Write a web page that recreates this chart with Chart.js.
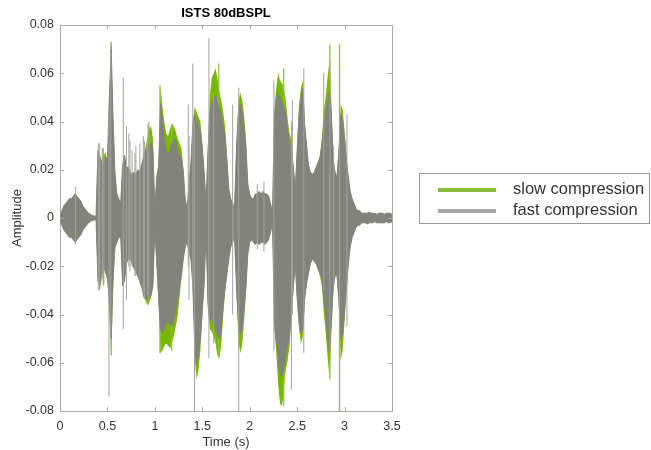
<!DOCTYPE html>
<html lang="en">
<head>
<meta charset="UTF-8">
<title>ISTS 80dBSPL</title>
<script src="https://cdn.jsdelivr.net/npm/chart.js@4.4.0/dist/chart.umd.min.js"></script>
<style>
  body { margin: 0; background: #fff; }
  canvas { display: block; }
</style>
</head>
<body>
<canvas id="chart" width="651" height="450"></canvas>
<script>
// envelope of the two signals, sampled every 20 ms (seconds)
const times = [
  0, 0.02, 0.04, 0.06, 0.08, 0.1, 0.12, 0.14, 0.16, 0.18,
  0.2, 0.22, 0.24, 0.26, 0.28, 0.3, 0.32, 0.34, 0.36, 0.38,
  0.4, 0.42, 0.44, 0.46, 0.48, 0.5, 0.52, 0.54, 0.56, 0.58,
  0.6, 0.62, 0.64, 0.66, 0.68, 0.7, 0.72, 0.74, 0.76, 0.78,
  0.8, 0.82, 0.84, 0.86, 0.88, 0.9, 0.92, 0.94, 0.96, 0.98,
  1, 1.02, 1.04, 1.06, 1.08, 1.1, 1.12, 1.14, 1.16, 1.18,
  1.2, 1.22, 1.24, 1.26, 1.28, 1.3, 1.32, 1.34, 1.36, 1.38,
  1.4, 1.42, 1.44, 1.46, 1.48, 1.5, 1.52, 1.54, 1.56, 1.58,
  1.6, 1.62, 1.64, 1.66, 1.68, 1.7, 1.72, 1.74, 1.76, 1.78,
  1.8, 1.82, 1.84, 1.86, 1.88, 1.9, 1.92, 1.94, 1.96, 1.98,
  2, 2.02, 2.04, 2.06, 2.08, 2.1, 2.12, 2.14, 2.16, 2.18,
  2.2, 2.22, 2.24, 2.26, 2.28, 2.3, 2.32, 2.34, 2.36, 2.38,
  2.4, 2.42, 2.44, 2.46, 2.48, 2.5, 2.52, 2.54, 2.56, 2.58,
  2.6, 2.62, 2.64, 2.66, 2.68, 2.7, 2.72, 2.74, 2.76, 2.78,
  2.8, 2.82, 2.84, 2.86, 2.88, 2.9, 2.92, 2.94, 2.96, 2.98,
  3, 3.02, 3.04, 3.06, 3.08, 3.1, 3.12, 3.14, 3.16, 3.18,
  3.2, 3.22, 3.24, 3.26, 3.28, 3.3, 3.32, 3.34, 3.36, 3.38,
  3.4, 3.42, 3.44, 3.46, 3.48, 3.5
];

const fastMax = [
  0, 0.003, 0.005, 0.006, 0.007, 0.008, 0.008, 0.009, 0.010, 0.009,
  0.008, 0.007, 0.005, 0.004, 0.003, 0.002, 0.0015, 0.001, 0.0008, 0.0008,
  0.028, 0.025, 0.022, 0.023, 0.025, 0.024, 0.050, 0.070, 0.040, 0.018,
  0.010, 0.008, 0.006, 0.022, 0.026, 0.021, 0.021, 0.019, 0.018, 0.019,
  0.018, 0.020, 0.019, 0.022, 0.025, 0.027, 0.029, 0.031, 0.031, 0.028,
  0.004, 0.017, 0.021, 0.047, 0.040, 0.033, 0.028, 0.026, 0.028, 0.031,
  0.033, 0.032, 0.028, 0.026, 0.025, 0.019, 0.008, 0.004, 0.014, 0.023,
  0.038, 0.043, 0.040, 0.038, 0.036, 0.029, 0.019, 0.006, 0.028, 0.043,
  0.048, 0.050, 0.051, 0.048, 0.045, 0.043, 0.038, 0.034, 0.024, 0.012,
  0.008, 0.006, 0.005, 0.028, 0.043, 0.047, 0.043, 0.038, 0.030, 0.014,
  0.010, 0.008, 0.008, 0.010, 0.010, 0.011, 0.010, 0.011, 0.010, 0.010,
  0.009, 0.006, 0.002, 0.043, 0.048, 0.052, 0.050, 0.048, 0.046, 0.043,
  0.036, 0.031, 0.028, 0.021, 0.012, 0.028, 0.043, 0.050, 0.054, 0.038,
  0.030, 0.022, 0.019, 0.018, 0.019, 0.021, 0.023, 0.025, 0.030, 0.038,
  0.043, 0.048, 0.053, 0.043, 0.024, 0.019, 0.017, 0.028, 0.043, 0.040,
  0.033, 0.024, 0.017, 0.011, 0.008, 0.006, 0.004, 0.003, 0.003, 0.002,
  0.002, 0.002, 0.002, 0.0025, 0.002, 0.002, 0.002, 0.0015, 0.002, 0.002,
  0.002, 0.0015, 0.002, 0.002, 0.002, 0.0015
];
const fastMin = [
  0, -0.003, -0.005, -0.006, -0.007, -0.008, -0.008, -0.009, -0.010, -0.009,
  -0.008, -0.007, -0.005, -0.004, -0.003, -0.002, -0.0015, -0.001, -0.0008, -0.0008,
  -0.026, -0.028, -0.023, -0.020, -0.022, -0.025, -0.033, -0.050, -0.024, -0.012,
  -0.010, -0.008, -0.008, -0.028, -0.026, -0.019, -0.017, -0.017, -0.019, -0.021,
  -0.022, -0.024, -0.026, -0.028, -0.031, -0.032, -0.034, -0.033, -0.032, -0.028,
  -0.004, -0.019, -0.033, -0.046, -0.048, -0.046, -0.044, -0.043, -0.044, -0.045,
  -0.042, -0.038, -0.034, -0.028, -0.024, -0.017, -0.012, -0.010, -0.014, -0.017,
  -0.028, -0.053, -0.061, -0.056, -0.050, -0.038, -0.027, -0.006, -0.036, -0.042,
  -0.042, -0.044, -0.046, -0.049, -0.050, -0.046, -0.036, -0.029, -0.023, -0.017,
  -0.012, -0.010, -0.008, -0.028, -0.043, -0.048, -0.046, -0.038, -0.029, -0.015,
  -0.010, -0.009, -0.010, -0.011, -0.010, -0.011, -0.010, -0.010, -0.011, -0.010,
  -0.009, -0.006, -0.002, -0.043, -0.050, -0.058, -0.064, -0.066, -0.062, -0.056,
  -0.053, -0.048, -0.038, -0.029, -0.019, -0.033, -0.043, -0.048, -0.046, -0.033,
  -0.027, -0.023, -0.019, -0.017, -0.018, -0.019, -0.021, -0.023, -0.025, -0.033,
  -0.040, -0.048, -0.056, -0.043, -0.029, -0.024, -0.024, -0.033, -0.050, -0.048,
  -0.038, -0.029, -0.019, -0.012, -0.008, -0.006, -0.004, -0.003, -0.003, -0.002,
  -0.002, -0.002, -0.0025, -0.002, -0.002, -0.002, -0.0015, -0.002, -0.002, -0.002,
  -0.002, -0.002, -0.0015, -0.002, -0.002, -0.0015
];
const slowMax = [
  0, 0.003, 0.005, 0.006, 0.007, 0.008, 0.008, 0.009, 0.010, 0.009,
  0.008, 0.007, 0.005, 0.004, 0.003, 0.002, 0.0015, 0.001, 0.0008, 0.0008,
  0.028, 0.026, 0.024, 0.026, 0.027, 0.024, 0.051, 0.072, 0.043, 0.020,
  0.010, 0.008, 0.006, 0.022, 0.026, 0.021, 0.021, 0.019, 0.018, 0.019,
  0.018, 0.020, 0.019, 0.022, 0.026, 0.029, 0.033, 0.037, 0.038, 0.033,
  0.004, 0.018, 0.023, 0.055, 0.046, 0.040, 0.035, 0.034, 0.037, 0.039,
  0.038, 0.036, 0.033, 0.031, 0.029, 0.021, 0.008, 0.004, 0.014, 0.023,
  0.040, 0.046, 0.044, 0.042, 0.040, 0.031, 0.019, 0.006, 0.030, 0.051,
  0.058, 0.060, 0.062, 0.058, 0.052, 0.049, 0.044, 0.038, 0.026, 0.012,
  0.008, 0.006, 0.005, 0.030, 0.048, 0.052, 0.049, 0.043, 0.033, 0.014,
  0.010, 0.008, 0.008, 0.010, 0.010, 0.011, 0.010, 0.011, 0.010, 0.010,
  0.009, 0.006, 0.002, 0.046, 0.054, 0.060, 0.057, 0.056, 0.054, 0.049,
  0.041, 0.035, 0.032, 0.022, 0.012, 0.030, 0.047, 0.054, 0.057, 0.040,
  0.030, 0.022, 0.019, 0.018, 0.019, 0.021, 0.023, 0.026, 0.033, 0.044,
  0.050, 0.058, 0.065, 0.050, 0.025, 0.019, 0.017, 0.030, 0.047, 0.045,
  0.036, 0.025, 0.017, 0.011, 0.008, 0.006, 0.004, 0.003, 0.003, 0.002,
  0.002, 0.002, 0.002, 0.0025, 0.002, 0.002, 0.002, 0.0015, 0.002, 0.002,
  0.002, 0.0015, 0.002, 0.002, 0.002, 0.0015
];
const slowMin = [
  0, -0.003, -0.005, -0.006, -0.007, -0.008, -0.008, -0.009, -0.010, -0.009,
  -0.008, -0.007, -0.005, -0.004, -0.003, -0.002, -0.0015, -0.001, -0.0008, -0.0008,
  -0.026, -0.030, -0.025, -0.021, -0.023, -0.026, -0.040, -0.057, -0.030, -0.012,
  -0.010, -0.008, -0.008, -0.028, -0.026, -0.019, -0.017, -0.017, -0.019, -0.021,
  -0.022, -0.024, -0.027, -0.029, -0.033, -0.034, -0.036, -0.035, -0.033, -0.028,
  -0.004, -0.020, -0.037, -0.056, -0.055, -0.053, -0.052, -0.053, -0.054, -0.052,
  -0.049, -0.045, -0.041, -0.033, -0.025, -0.017, -0.012, -0.010, -0.014, -0.017,
  -0.029, -0.058, -0.067, -0.063, -0.055, -0.041, -0.028, -0.006, -0.038, -0.046,
  -0.047, -0.049, -0.052, -0.057, -0.058, -0.053, -0.041, -0.031, -0.024, -0.017,
  -0.012, -0.010, -0.008, -0.030, -0.050, -0.056, -0.053, -0.043, -0.031, -0.015,
  -0.010, -0.009, -0.010, -0.011, -0.010, -0.011, -0.010, -0.010, -0.011, -0.010,
  -0.009, -0.006, -0.002, -0.046, -0.056, -0.069, -0.077, -0.078, -0.071, -0.063,
  -0.059, -0.053, -0.041, -0.030, -0.019, -0.035, -0.046, -0.052, -0.049, -0.035,
  -0.027, -0.023, -0.019, -0.017, -0.018, -0.019, -0.021, -0.024, -0.028, -0.039,
  -0.047, -0.057, -0.066, -0.049, -0.030, -0.024, -0.024, -0.038, -0.059, -0.055,
  -0.043, -0.031, -0.019, -0.012, -0.008, -0.006, -0.004, -0.003, -0.003, -0.002,
  -0.002, -0.002, -0.0025, -0.002, -0.002, -0.002, -0.0015, -0.002, -0.002, -0.002,
  -0.002, -0.002, -0.0015, -0.002, -0.002, -0.0015
];

// narrow transients (a sample or two wide) drawn as thin vertical strokes
const fastSpikeTimes = [0.165, 0.404, 0.418, 0.446, 0.463, 0.516, 0.535, 0.667, 0.70, 0.726,
  0.738, 0.76, 0.79, 0.80, 0.842, 0.878, 0.89, 0.92, 0.937, 1.352, 1.36, 1.40, 1.418, 1.57,
  1.62, 1.82, 1.884, 2.08, 2.15, 2.255, 2.44, 2.45, 2.57, 2.78, 2.845, 2.885, 2.947, 3.025];
const fastSpikeHigh = [0.013, 0.031, 0.031, 0.029, 0.026, 0.045, 0.072, 0.058, 0.038, 0.035,
  0.032, 0.028, 0.027, 0.030, 0.031, 0.034, 0.032, 0.030, 0.040, 0.047, 0.034, 0.064, 0.040, 0.0745,
  0.052, 0.047, 0.054, 0.014, 0.015, 0.057, 0.040, 0.049, 0.062, 0.060, 0.065, 0.030, 0.062, 0.043];
const fastSpikeLow = [-0.011, -0.030, -0.030, -0.025, -0.027, -0.074, -0.050, -0.046, -0.034, -0.020,
  -0.022, -0.020, -0.024, -0.024, -0.027, -0.032, -0.033, -0.032, -0.035, -0.020, -0.034, -0.030, -0.080, -0.058,
  -0.052, -0.040, -0.080, -0.013, -0.014, -0.055, -0.071, -0.040, -0.056, -0.030, -0.060, -0.031, -0.080, -0.045];
const slowSpikeTimes = [0.456, 0.54, 0.93, 1.054, 1.177, 1.674, 2.358, 2.845, 2.947];
const slowSpikeHigh = [0.029, 0.073, 0.039, 0.055, 0.039, 0.064, 0.062, 0.072, 0.072];
const slowSpikeLow = [-0.028, -0.057, -0.036, -0.056, -0.055, -0.058, -0.078, -0.067, -0.080];

const seriesNames = ['slow compression', 'fast compression'];
const xTicks = [0, 0.5, 1, 1.5, 2, 2.5, 3, 3.5];
const yTicks = [-0.08, -0.06, -0.04, -0.02, 0, 0.02, 0.04, 0.06, 0.08];

const GREEN = '#7ab800';
const GREY = '#83837e';
const SPIKE_GREY = '#a2a29e';
const AXIS = '#a8a8a8';
const TEXT = '#333333';
const FONT = '"Liberation Sans", Arial, sans-serif';

const toPts = ys => ys.map((y, i) => ({ x: times[i], y: y }));
function spikePts(ts, lo, hi) {
  const pts = [];
  ts.forEach((t, i) => {
    pts.push({ x: t, y: lo[i] }, { x: t, y: hi[i] }, { x: t, y: null });
  });
  return pts;
}

const envelope = (label, data, color, width, fill, order) => ({
  label: label, data: data,
  borderColor: color, backgroundColor: color,
  borderWidth: width, pointRadius: 0, tension: 0,
  fill: fill, order: order
});

// MATLAB style inward ticks on all four sides
const boxTicks = {
  id: 'boxTicks',
  afterDraw(chart) {
    const { ctx, chartArea: a, scales } = chart;
    ctx.save();
    ctx.strokeStyle = AXIS;
    ctx.lineWidth = 1;
    ctx.beginPath();
    xTicks.forEach(v => {
      const px = Math.round(scales.x.getPixelForValue(v)) + 0.5;
      ctx.moveTo(px, a.bottom); ctx.lineTo(px, a.bottom - 4);
      ctx.moveTo(px, a.top); ctx.lineTo(px, a.top + 4);
    });
    yTicks.forEach(v => {
      const py = Math.round(scales.y.getPixelForValue(v)) + 0.5;
      ctx.moveTo(a.left, py); ctx.lineTo(a.left + 4, py);
      ctx.moveTo(a.right, py); ctx.lineTo(a.right - 4, py);
    });
    ctx.stroke();
    ctx.restore();
  }
};

// boxed legend to the right of the axes
const boxLegend = {
  id: 'boxLegend',
  afterDraw(chart) {
    const ctx = chart.ctx;
    const colors = ['#86bd3c', '#a6a6a6'];
    ctx.save();
    ctx.strokeStyle = '#9c9c9c';
    ctx.lineWidth = 1;
    ctx.strokeRect(419.5, 173.5, 230, 50);
    ctx.font = '16.5px ' + FONT;
    ctx.textBaseline = 'middle';
    ctx.fillStyle = '#333';
    seriesNames.forEach((name, i) => {
      const y = 190 + i * 21;
      ctx.strokeStyle = colors[i];
      ctx.lineWidth = 4;
      ctx.beginPath();
      ctx.moveTo(438, y); ctx.lineTo(496, y);
      ctx.stroke();
      ctx.fillText(name, 513, y - 1);
    });
    ctx.restore();
  }
};

new Chart(document.getElementById('chart'), {
  type: 'line',
  data: {
    datasets: [
      envelope(seriesNames[1], toPts(fastMax), GREY, 1, '+1', 1),
      envelope(seriesNames[1] + ' min', toPts(fastMin), GREY, 1, false, 1),
      envelope(seriesNames[0], toPts(slowMax), GREEN, 0, '+1', 3),
      envelope(seriesNames[0] + ' min', toPts(slowMin), GREEN, 0, false, 3),
      {
        data: spikePts(fastSpikeTimes, fastSpikeLow, fastSpikeHigh),
        borderColor: SPIKE_GREY, borderWidth: 1, pointRadius: 0,
        spanGaps: false, fill: false, order: 0
      },
      {
        data: spikePts(slowSpikeTimes, slowSpikeLow, slowSpikeHigh),
        borderColor: '#8cc43a', borderWidth: 1.3, pointRadius: 0,
        spanGaps: false, fill: false, order: 2
      }
    ]
  },
  options: {
    responsive: false,
    animation: false,
    layout: { padding: { left: 4, right: 259, top: 0, bottom: 0 } },
    plugins: {
      legend: { display: false },
      tooltip: { enabled: false }
    },
    scales: {
      x: {
        type: 'linear', position: 'bottom', min: 0, max: 3.5,
        afterBuildTicks: s => { s.ticks = xTicks.map(v => ({ value: v })); },
        afterFit: s => { s.height = 39; },
        grid: { display: false, drawTicks: false },
        border: { display: true, color: AXIS },
        ticks: { color: TEXT, font: { family: FONT, size: 12.5 }, padding: 8, maxRotation: 0,
                 callback: v => String(v) },
        title: { display: true, text: 'Time (s)', color: TEXT,
                 font: { family: FONT, size: 13 }, padding: { top: 0, bottom: 0 } }
      },
      x2: {
        type: 'linear', position: 'top', min: 0, max: 3.5,
        afterFit: s => { s.height = 25; },
        grid: { display: false, drawTicks: false },
        border: { display: true, color: AXIS },
        ticks: { display: false },
        title: { display: true, text: 'ISTS 80dBSPL', color: '#000',
                 font: { family: FONT, size: 13, weight: 'bold' }, padding: { top: 6, bottom: 0 } }
      },
      y: {
        type: 'linear', position: 'left', min: -0.08, max: 0.08,
        afterBuildTicks: s => { s.ticks = yTicks.map(v => ({ value: v })); },
        afterFit: s => { s.width = 56; },
        grid: { display: false, drawTicks: false },
        border: { display: true, color: AXIS },
        ticks: { color: TEXT, font: { family: FONT, size: 12.5 }, padding: 6,
                 callback: v => (Math.abs(v) < 1e-9 ? '0' : v.toFixed(2)) },
        title: { display: true, text: 'Amplitude', color: TEXT,
                 font: { family: FONT, size: 13 }, padding: { top: 6, bottom: 0 } }
      },
      y2: {
        type: 'linear', position: 'right', min: -0.08, max: 0.08,
        afterFit: s => { s.width = 0; },
        grid: { display: false, drawTicks: false },
        border: { display: true, color: AXIS },
        ticks: { display: false }
      }
    }
  },
  plugins: [boxTicks, boxLegend]
});
</script>
</body>
</html>
